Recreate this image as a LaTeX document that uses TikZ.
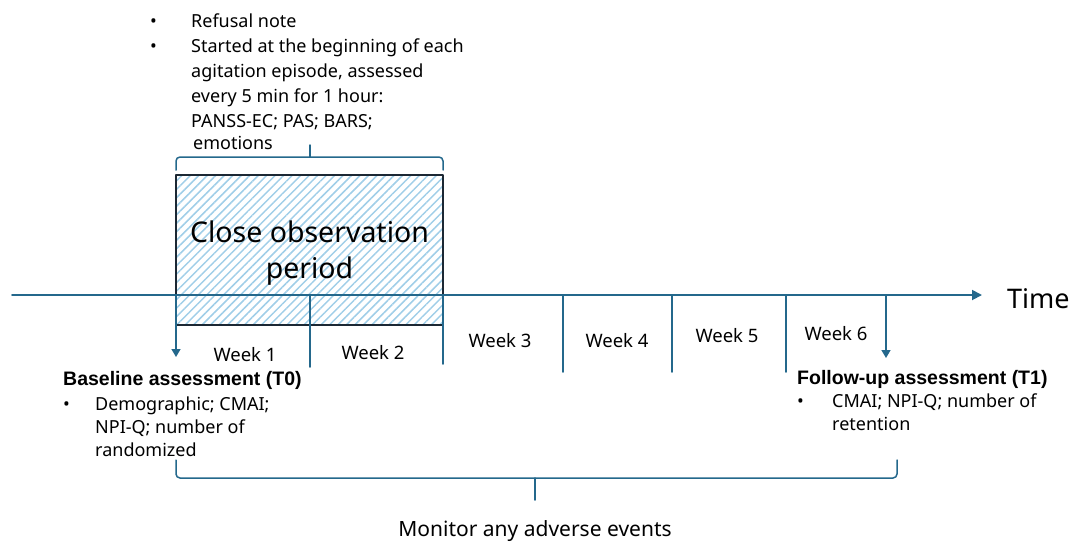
\documentclass[tikz,border=0pt]{standalone}
\usepackage{fontspec}
\setmainfont{Noto Sans}
\newfontfamily\headfont{Liberation Sans}
\usetikzlibrary{arrows.meta,patterns.meta}
\definecolor{axisblue}{RGB}{36,104,140}
\definecolor{boxline}{RGB}{28,40,52}
\definecolor{hatchblue}{RGB}{160,206,232}
\newcommand{\headtext}[1]{{\headfont\bfseries\fontsize{19.5}{25}\selectfont #1}}
\begin{document}
\begin{tikzpicture}[x=1pt, y=-1pt, line join=round, line cap=round,
  axis/.style={draw=axisblue, line width=1.8pt},
  tick/.style={draw=axisblue, line width=1.5pt},
  tipdown/.style={-{Triangle[width=9pt,length=8pt]}},
  weeklbl/.style={font=\fontsize{18.5}{22}\selectfont, inner sep=0pt},
  bracket/.style={draw=axisblue, line width=1.5pt, rounded corners=4pt},
  notes/.style={anchor=north west, inner sep=0pt, align=left, font=\fontsize{18}{25}\selectfont}]
  \useasboundingbox (0,0) rectangle (1075,544);

  % 1. Khung giai đoạn quan sát
  \node[draw=boxline, line width=1.6pt, minimum width=267pt, minimum height=150pt,
        pattern={Lines[angle=45,distance=6pt,line width=1.5pt]}, pattern color=hatchblue] (obs) at (309.5,250) {};
  \node[align=center, font=\fontsize{28.5}{36}\selectfont, inner sep=0pt] (obslbl) at (309.5,253)
        {Close observation\\period};

  % 2. Trục thời gian
  \coordinate (tstart) at (12,295);
  \coordinate (tend) at (982,295);
  \draw[axis, -{Triangle[width=10pt,length=10pt]}] (tstart) -- (tend);
  \node[font=\fontsize{27}{30}\selectfont, anchor=west, inner sep=0pt] (time) at (1007,299) {Time};

  % Các vạch chia tuần
  \foreach \x/\y in {310/367, 443/364, 563/372, 672/372, 786/372}
    \draw[tick] (\x,295) -- (\x,\y);

  % Mốc T0 và T1
  \coordinate (t0) at (176,295);
  \coordinate (t0end) at (176,357);
  \coordinate (t1) at (886,295);
  \coordinate (t1end) at (886,358);
  \draw[tick, tipdown] (t0) -- (t0end);
  \draw[tick, tipdown] (t1) -- (t1end);

  % Nhãn tuần
  \node[weeklbl] (w1) at (245,355) {Week 1};
  \node[weeklbl] (w2) at (373,353) {Week 2};
  \node[weeklbl] (w3) at (500,341) {Week 3};
  \node[weeklbl] (w4) at (617,341) {Week 4};
  \node[weeklbl] (w5) at (727,336) {Week 5};
  \node[weeklbl] (w6) at (836,334) {Week 6};

  % 3. Ngoặc trên và ghi chú
  \draw[bracket] (176,170) -- (176,157) -- (310,157) -- (443,157) -- (443,170);
  \draw[bracket] (310,157) -- (310,145);
  \node[notes] (topnote) at (150,10) {%
    \begin{tabular}{@{}p{41pt}@{}l@{}}
    \textbullet & Refusal note\\
    \textbullet & Started at the beginning of each\\
     & agitation episode, assessed\\
     & every 5 min for 1 hour:\\
     & PANSS-EC; PAS; BARS;\\[-3pt]
     & \hspace{2pt}emotions
    \end{tabular}};

  % 4. Đánh giá ban đầu và theo dõi
  \node[notes] (base) at (63,368) {%
    \begin{tabular}{@{}p{32pt}@{}l@{}}
    \multicolumn{2}{@{}l@{}}{\headtext{Baseline assessment (T0)}}\\
    \textbullet & Demographic; CMAI;\\[-2pt]
     & NPI-Q; number of\\[-2pt]
     & randomized
    \end{tabular}};
  \node[notes] (follow) at (797,367) {%
    \begin{tabular}{@{}p{35pt}@{}l@{}}
    \multicolumn{2}{@{}l@{}}{\headtext{Follow-up assessment (T1)}}\\[-2pt]
    \textbullet & CMAI; NPI-Q; number of\\[-2pt]
     & retention
    \end{tabular}};

  % 5. Ngoặc dưới
  \draw[bracket] (176,460) -- (176,478) -- (535,478) -- (897,478) -- (897,460);
  \draw[bracket] (535,478) -- (535,500);
  \node[font=\fontsize{21}{24}\selectfont, inner sep=0pt] (monitor) at (535,531) {Monitor any adverse events};
\end{tikzpicture}
\end{document}
